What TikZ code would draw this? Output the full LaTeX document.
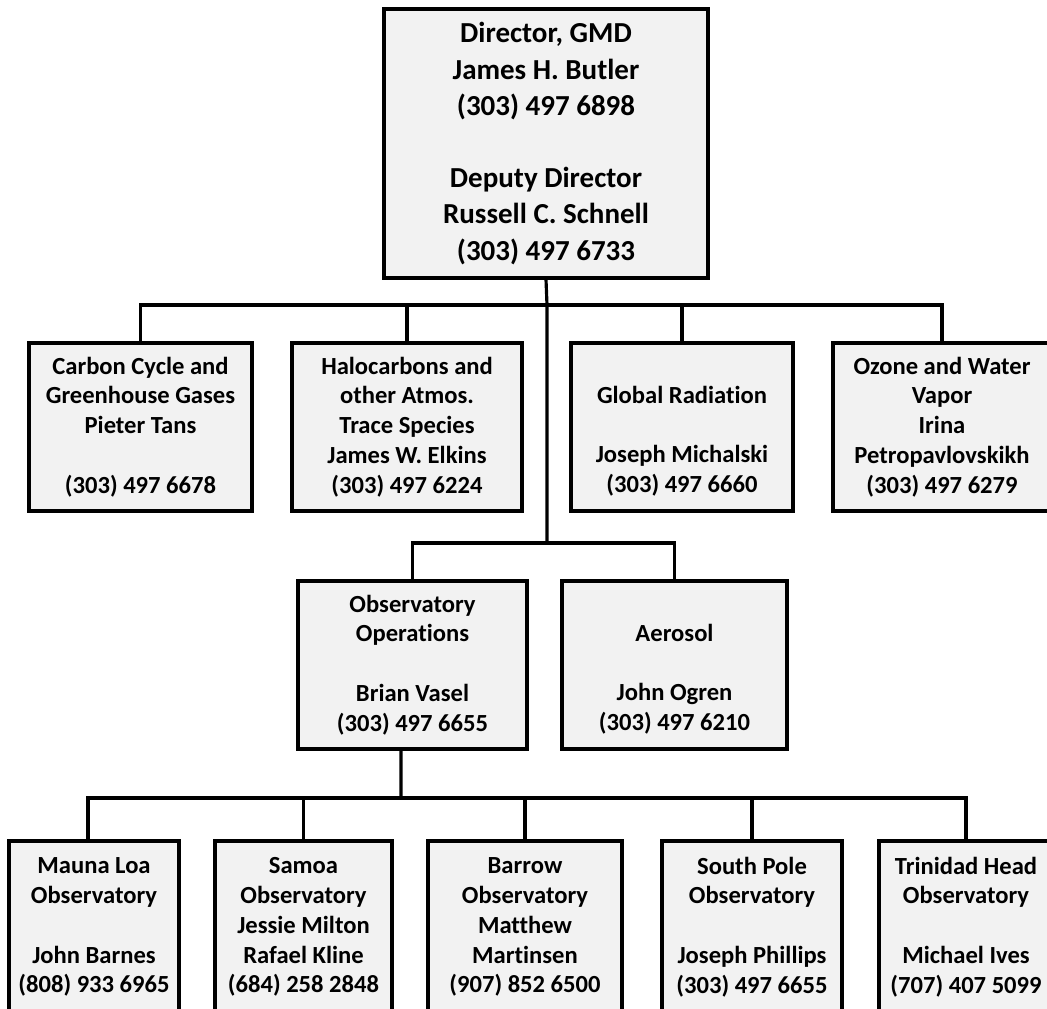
\documentclass[tikz,border=0pt]{standalone}
\usepackage{fontspec}
\setmainfont[Ligatures=NoCommon]{Carlito}
\usepackage{tikz}
\definecolor{boxgray}{RGB}{242,242,242}
\newcommand{\gap}{\vphantom{Ag}}

\begin{document}
\begin{tikzpicture}[x=0.02cm,y=-0.02cm,
        unit/.style={draw=black, fill=boxgray, line width=1.8pt, inner sep=0pt, align=center,
                font=\bfseries\fontsize{14pt}{17pt}\selectfont},
        link/.style={black, line width=1.8pt}]
        \useasboundingbox (0,0) rectangle (1047,1008);
        \clip (0,0) rectangle (1047,1008);
        % director
        \node[unit, minimum width=6.48cm, minimum height=5.38cm, font=\bfseries\fontsize{16.5pt}{20.6pt}\selectfont] (dir) at (546,143.5)
                {Director, GMD\\James H. Butler\\(303) 497 6898\\\gap\\Deputy Director\\Russell C. Schnell\\(303) 497 6733};
        % divisions
        \node[unit, minimum width=4.46cm, minimum height=3.36cm] (carbon) at (140.5,427) {Carbon Cycle and\\Greenhouse Gases\\Pieter Tans\\\gap\\(303) 497 6678};
        \node[unit, minimum width=4.6cm, minimum height=3.36cm] (halo) at (407,427) {Halocarbons and\\other Atmos.\\Trace Species\\James W. Elkins\\(303) 497 6224};
        \node[unit, minimum width=4.44cm, minimum height=3.36cm] (rad) at (682,427) {\gap\\Global Radiation\\\gap\\Joseph Michalski\\(303) 497 6660};
        \node[unit, minimum width=4.36cm, minimum height=3.36cm] (ozone) at (942,427) {Ozone and Water\\Vapor\\Irina\\Petropavlovskikh\\(303) 497 6279};
        \node[unit, minimum width=4.58cm, minimum height=3.36cm] (obs) at (412.5,665) {Observatory\\Operations\\\gap\\Brian Vasel\\(303) 497 6655};
        \node[unit, minimum width=4.5cm, minimum height=3.36cm] (aero) at (674.5,665) {\gap\\Aerosol\\\gap\\John Ogren\\(303) 497 6210};
        % observatories
        \node[unit, minimum width=3.4cm, minimum height=3.44cm] (mlo) at (94,927) {Mauna Loa\\Observatory\\\gap\\John Barnes\\(808) 933 6965};
        \node[unit, minimum width=3.54cm, minimum height=3.44cm] (smo) at (303.5,927) {Samoa\\Observatory\\Jessie Milton\\Rafael Kline\\(684) 258 2848};
        \node[unit, minimum width=3.88cm, minimum height=3.44cm] (brw) at (525,927) {Barrow\\Observatory\\Matthew\\Martinsen\\(907) 852 6500};
        \node[unit, minimum width=3.6cm, minimum height=3.44cm] (spo) at (752,927) {South Pole\\Observatory\\\gap\\Joseph Phillips\\(303) 497 6655};
        \node[unit, minimum width=3.48cm, minimum height=3.44cm] (thd) at (966,927) {Trinidad Head\\Observatory\\\gap\\Michael Ives\\(707) 407 5099};
        % connectors
        \coordinate (busA) at (547,305);
        \coordinate (busB) at (547,543);
        \coordinate (busC) at (401,798);
        \draw[link] (dir.south) -- (busA) -- (busB);
        \draw[link] (carbon.north) |- (busA) -| (ozone.north);
        \draw[link] (halo.north) -- (halo.north |- busA);
        \draw[link] (rad.north) -- (rad.north |- busA);
        \draw[link] (obs.north) |- (busB) -| (aero.north);
        \draw[link] ([xshift=-0.23cm]obs.south) -- (busC);
        \draw[link] ([xshift=-0.12cm]mlo.north) |- (busC) -| (thd.north);
        \draw[link] (smo.north) -- (smo.north |- busC);
        \draw[link] (brw.north) -- (brw.north |- busC);
        \draw[link] (spo.north) -- (spo.north |- busC);
\end{tikzpicture}
\end{document}
